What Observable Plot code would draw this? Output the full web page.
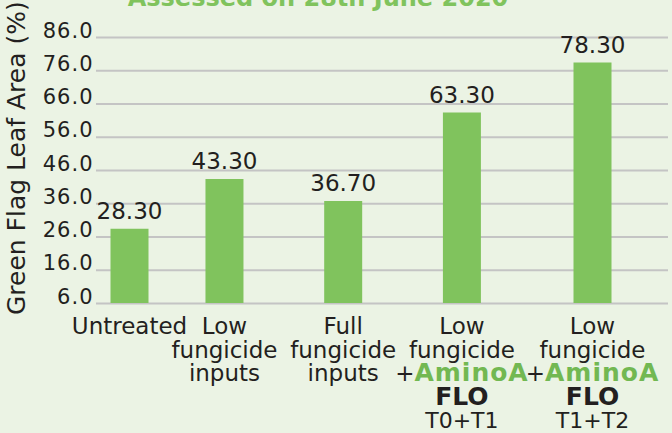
<!DOCTYPE html>
<html><head><meta charset="utf-8">
<script src="https://cdn.jsdelivr.net/npm/d3@7"></script>
<script src="https://cdn.jsdelivr.net/npm/@observablehq/plot@0.6"></script>
<style>
html,body{margin:0;padding:0;background:#ebf3e4;overflow:hidden;}
#wrap{position:relative;width:672px;height:433px;overflow:hidden;}
#title{position:absolute;left:0;top:-14px;width:636px;text-align:center;font:bold 24px "DejaVu Sans";line-height:24px;color:#80c35d;white-space:nowrap;}
</style></head><body>
<div id="wrap"><div id="chart"></div><div id="title">Assessed on 28th June 2020</div></div>
<script>
// ---- data ----
const categories = ["Untreated", "Low fungicide inputs", "Full fungicide inputs",
  "Low fungicide +AminoA FLO T0+T1", "Low fungicide +AminoA FLO T1+T2"];
const values = [28.30, 43.30, 36.70, 63.30, 78.30];
const categoryLabels = ["Untreated", "Low\nfungicide\ninputs", "Full\nfungicide\ninputs",
  "Low\nfungicide\n+AminoA\nFLO\nT0+T1", "Low\nfungicide\n+AminoA\nFLO\nT1+T2"];
const yTicks = [6, 16, 26, 36, 46, 56, 66, 76, 86];
const yTitle = "Green Flag Leaf Area (%)";

// ---- styling ----
const BAR = "#80c35d", AMINO = "#72b852", TEXT = "#231f20", GRID = "#c4c4c4";

const data = categories.map((c, i) => ({category: c, value: values[i]}));
const labelOf = Object.fromEntries(categories.map((c, i) => [c, categoryLabels[i]]));

// uneven category spacing of the original: empty slots between categories on the point scale
const slotsAfter = [7, 9, 9, 10, 0];
const xDomain = categories.flatMap((c, i) => [c, ...d3.range(slotsAfter[i]).map(j => `_gap${i}_${j}`)]);

const chart = Plot.plot({
  width: 672, height: 433,
  marginLeft: 96, marginRight: 4, marginTop: 37, marginBottom: 130,
  style: {fontFamily: "DejaVu Sans", background: "#ebf3e4", color: TEXT},
  x: {type: "point", domain: xDomain, range: [129, 592], padding: 0, axis: null},
  y: {domain: [6, 86], axis: null},
  marks: [
    Plot.gridY(yTicks, {stroke: GRID, strokeWidth: 2, strokeOpacity: 1}),
    Plot.ruleX(data, {x: "category", y1: 6, y2: "value", stroke: BAR, strokeWidth: 38}),
    Plot.text(data, {x: "category", y: "value", text: d => d.value.toFixed(2),
      lineAnchor: "bottom", dy: -10, fontSize: 23, fill: TEXT}),
    Plot.axisY(yTicks, {tickSize: 0, tickPadding: 3, tickFormat: d => d.toFixed(1),
      fontSize: 21, dy: -6.7, label: null, fill: TEXT}),
    Plot.axisX(categories, {tickSize: 0, tickPadding: 14, tickFormat: c => labelOf[c],
      fontSize: 23, lineHeight: 1.02, label: null, fill: TEXT}),
    Plot.text([yTitle], {frameAnchor: "left", rotate: -90, textAnchor: "middle",
      fontSize: 25, dx: -79.5, dy: -12.3, fill: TEXT})
  ]
});

const svg = d3.select(chart);
svg.selectAll("g[aria-label='y-axis tick label'] text").attr("letter-spacing", "1px");
svg.selectAll("g[aria-label='x-axis tick label'] tspan").each(function() {
  const s = d3.select(this), t = this.textContent;
  if (t === "+AminoA") {
    s.text("+");
    s.append("tspan").attr("fill", AMINO).attr("font-weight", "bold").attr("font-size", 25)
      .attr("letter-spacing", "1px").text("AminoA");
  } else if (t === "FLO") {
    s.text("");
    s.append("tspan").attr("font-weight", "bold").attr("font-size", 25).text("FLO");
  } else if (/^T\d\+T\d$/.test(t)) {
    s.text("");
    s.append("tspan").attr("font-size", 22).text(t);
  }
});
document.getElementById("chart").appendChild(chart);
</script>
</body></html>
